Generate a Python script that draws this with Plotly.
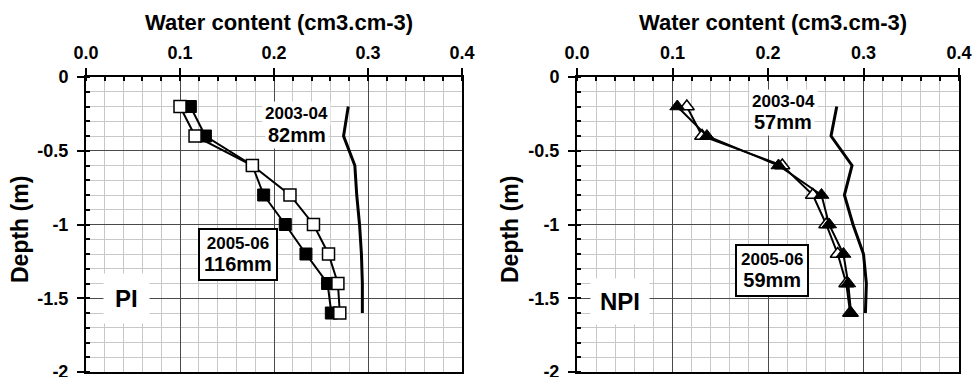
import plotly.graph_objects as go

# ---------------- data ----------------
depths = [-0.2, -0.4, -0.6, -0.8, -1.0, -1.2, -1.4, -1.6]

pi_open = [0.100, 0.116, 0.177, 0.217, 0.242, 0.258, 0.268, 0.270]
pi_filled = [0.111, 0.127, 0.177, 0.189, 0.212, 0.234, 0.257, 0.261]
pi_ref = [0.279, 0.274, 0.286, 0.288, 0.291, 0.293, 0.294, 0.294]

npi_open = [0.115, 0.131, 0.215, 0.247, 0.261, 0.273, 0.282, 0.286]
npi_filled = [0.105, 0.136, 0.211, 0.256, 0.264, 0.279, 0.284, 0.287]
npi_ref = [0.272, 0.266, 0.288, 0.280, 0.289, 0.300, 0.303, 0.302]

x_tickvals = [0.0, 0.1, 0.2, 0.3, 0.4]
x_ticktext = ["0.0", "0.1", "0.2", "0.3", "0.4"]
y_tickvals = [0, -0.5, -1, -1.5, -2]
y_ticktext = ["0", "-0.5", "-1", "-1.5", "-2"]

x_title = "Water content (cm3.cm-3)"
y_title = "Depth (m)"

FONT = "Liberation Sans"

fig = go.Figure()

# ---- left panel (PI) ----
fig.add_trace(go.Scatter(x=pi_ref, y=depths, mode="lines",
                         line=dict(color="black", width=3),
                         xaxis="x", yaxis="y", showlegend=False))
fig.add_trace(go.Scatter(x=pi_filled, y=depths, mode="lines+markers",
                         line=dict(color="black", width=2),
                         marker=dict(symbol="square", size=12, color="black",
                                     line=dict(color="black", width=1)),
                         xaxis="x", yaxis="y", showlegend=False))
fig.add_trace(go.Scatter(x=pi_open, y=depths, mode="lines+markers",
                         line=dict(color="black", width=2),
                         marker=dict(symbol="square", size=12, color="white",
                                     line=dict(color="black", width=1.5)),
                         xaxis="x", yaxis="y", showlegend=False))

# ---- right panel (NPI) ----
fig.add_trace(go.Scatter(x=npi_ref, y=depths, mode="lines",
                         line=dict(color="black", width=3),
                         xaxis="x2", yaxis="y2", showlegend=False))
fig.add_trace(go.Scatter(x=npi_open, y=depths, mode="lines+markers",
                         line=dict(color="black", width=2),
                         marker=dict(symbol="triangle-up", size=13, color="white",
                                     line=dict(color="black", width=1.5)),
                         xaxis="x2", yaxis="y2", showlegend=False))
fig.add_trace(go.Scatter(x=npi_filled, y=depths, mode="lines+markers",
                         line=dict(color="black", width=2),
                         marker=dict(symbol="triangle-up", size=13, color="black",
                                     line=dict(color="black", width=1)),
                         xaxis="x2", yaxis="y2", showlegend=False))

W, H = 973, 377
y_dom = [1 - 372 / H, 1 - 77 / H]
left_dom = [86 / W, 462 / W]
right_dom = [577 / W, 959 / W]

tickfont = dict(family=FONT, size=18, color="black", weight="bold")

def xaxis(dom, anchor):
    return dict(domain=dom, anchor=anchor, side="top", range=[0, 0.4],
                tickvals=x_tickvals, ticktext=x_ticktext, tickfont=tickfont,
                ticks="outside", ticklen=7, tickwidth=1.5, tickcolor="black",
                ticklabelstandoff=2, ticklabeloverflow="allow",
                showline=True, linecolor="black", linewidth=2, mirror=True,
                showgrid=True, gridcolor="#4a4a4a", gridwidth=1.2,
                minor=dict(dtick=0.02, showgrid=True, gridcolor="#c8c8c8",
                           gridwidth=1, ticks="inside", ticklen=4,
                           tickcolor="black"),
                zeroline=False, fixedrange=True, automargin=False)

def yaxis(dom, anchor):
    return dict(domain=dom, anchor=anchor, range=[-2, 0],
                tickvals=y_tickvals, ticktext=y_ticktext, tickfont=tickfont,
                ticks="outside", ticklen=7, tickwidth=1.5, tickcolor="black",
                ticklabelstandoff=5, ticklabeloverflow="allow",
                showline=True, linecolor="black", linewidth=2, mirror=True,
                showgrid=True, gridcolor="#4a4a4a", gridwidth=1.2,
                minor=dict(dtick=0.1, showgrid=True, gridcolor="#c8c8c8",
                           gridwidth=1, ticks="inside", ticklen=4,
                           tickcolor="black"),
                zeroline=False, fixedrange=True, automargin=False)

fig.update_layout(
    width=W, height=H,
    margin=dict(l=0, r=0, t=0, b=0),
    paper_bgcolor="white", plot_bgcolor="white",
    xaxis=xaxis(left_dom, "y"), yaxis=yaxis(y_dom, "x"),
    xaxis2=xaxis(right_dom, "y2"), yaxis2=yaxis(y_dom, "x2"),
    font=dict(family=FONT, color="black"),
)

bold = lambda s: dict(family=FONT, size=s, color="black", weight="bold")

ann = []
# axis titles
for cx, dx in [(278.7, 20), (772.5, 510)]:
    ann.append(dict(text=x_title, x=cx / W, y=1 - 22.5 / H, xref="paper", yref="paper",
                    showarrow=False, font=bold(22), xanchor="center", yanchor="middle"))
    ann.append(dict(text=y_title, x=dx / W, y=1 - 230 / H, xref="paper", yref="paper",
                    showarrow=False, font=bold(23), textangle=-90,
                    xanchor="center", yanchor="middle"))

# 2003-04 labels
ann.append(dict(text="2003-04", x=0.224, y=-0.245, xref="x", yref="y", showarrow=False,
                font=bold(17), bgcolor="white", borderpad=2))
ann.append(dict(text="82mm", x=0.224, y=-0.393, xref="x", yref="y", showarrow=False,
                font=bold(20), bgcolor="white", borderpad=2))
ann.append(dict(text="2003-04", x=0.216, y=-0.165, xref="x2", yref="y2", showarrow=False,
                font=bold(17), bgcolor="white", borderpad=2))
ann.append(dict(text="57mm", x=0.216, y=-0.305, xref="x2", yref="y2", showarrow=False,
                font=bold(20), bgcolor="white", borderpad=2))

# 2005-06 boxed labels
ann.append(dict(text="2005-06<br><span style='font-size:20px'>116mm</span>",
                x=0.1615, y=-1.20, xref="x", yref="y", showarrow=False,
                font=bold(17), bgcolor="white", bordercolor="black", borderwidth=2,
                borderpad=4))
ann.append(dict(text="2005-06<br><span style='font-size:20px'>59mm</span>",
                x=0.2047, y=-1.314, xref="x2", yref="y2", showarrow=False,
                font=bold(17), bgcolor="white", bordercolor="black", borderwidth=2,
                borderpad=4))

# site labels
ann.append(dict(text="PI", x=0.0433, y=-1.505, xref="x", yref="y", showarrow=False,
                font=bold(24), bgcolor="white", borderpad=11))
ann.append(dict(text="NPI", x=0.045, y=-1.52, xref="x2", yref="y2", showarrow=False,
                font=bold(24), bgcolor="white", borderpad=9))

fig.update_layout(annotations=ann)

fig.write_html("out.html")
